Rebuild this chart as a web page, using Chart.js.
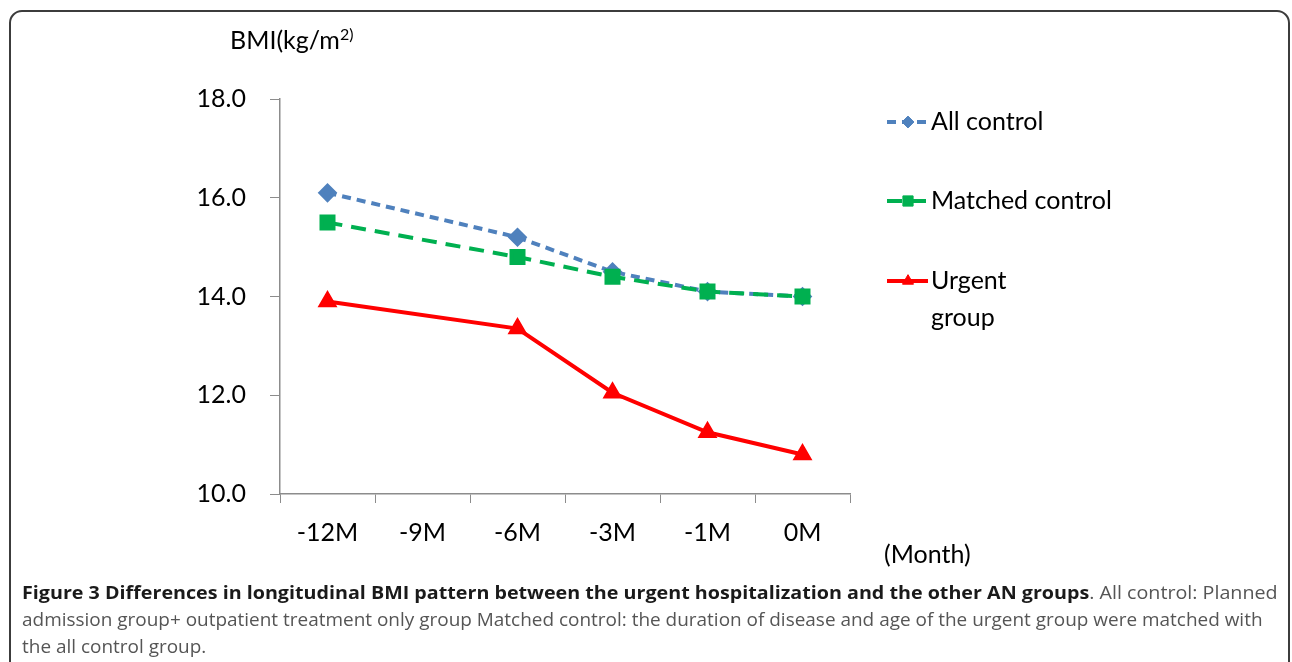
<!DOCTYPE html>
<html>
<head>
<meta charset="utf-8">
<script src="https://cdn.jsdelivr.net/npm/chart.js@4.4.1/dist/chart.umd.min.js"></script>
<style>
  html, body { margin:0; padding:0; background:#fff; width:1292px; height:662px; overflow:hidden; }
  #frame { position:absolute; left:9px; top:10px; width:1281px; height:720px; border:2px solid #3c3c3c; border-radius:13px; box-sizing:border-box; }
  #wrap { position:absolute; left:0; top:0; width:1292px; height:662px; }
  .ttl { position:absolute; font-family:'Lato', sans-serif; font-size:25px; color:#000; white-space:nowrap; line-height:1; }
  #ytitle { left:230px; top:27px; }
  #ytitle sup { font-size:16px; vertical-align:0; position:relative; top:-9px; }
  #xtitle { left:884px; top:541px; }
  .cap { position:absolute; left:22px; font-family:'Open Sans', sans-serif; font-size:17.5px; color:#555; white-space:nowrap; transform-origin:0 0; line-height:1; }
  .cap b { color:#1a1a1a; font-weight:700; }
</style>
</head>
<body>
<div id="frame"></div>
<div id="wrap"><canvas id="c" width="1292" height="662"></canvas></div>
<div class="ttl" id="ytitle">BMI(kg/m<sup>2)</sup></div>
<div class="ttl" id="xtitle">(Month)</div>
<div class="cap" id="cap1" style="top:584px"><b>Figure 3 Differences in longitudinal BMI pattern between the urgent hospitalization and the other AN groups</b>. All control: Planned</div>
<div class="cap" id="cap2" style="top:611px">admission group+ outpatient treatment only group Matched control: the duration of disease and age of the urgent group were matched with</div>
<div class="cap" id="cap3" style="top:638px">the all control group.</div>
<script>
// ---- data ----
const categories = ['-12M', '-9M', '-6M', '-3M', '-1M', '0M'];
const allControl = [16.1, null, 15.2, 14.5, 14.1, 14.0];
const matchedControl = [15.5, null, 14.8, 14.4, 14.1, 14.0];
const urgentGroup = [13.9, null, 13.35, 12.05, 11.25, 10.8];
const yMin = 10, yMax = 18, yStep = 2;
const legendLabels = [['All control'], ['Matched control'], ['Urgent', 'group']];

// fit caption lines to the reference widths once fonts are ready
function fitCaption() {
  const c1 = document.getElementById('cap1'), c2 = document.getElementById('cap2'), c3 = document.getElementById('cap3');
  [c1, c2, c3].forEach(el => el.style.transform = 'none');
  const k1 = 1256 / c1.scrollWidth, k2 = 1240 / c2.scrollWidth;
  c1.style.transform = 'scaleX(' + k1 + ')';
  c2.style.transform = 'scaleX(' + k2 + ')';
  c3.style.transform = 'scaleX(' + k2 + ')';
}
fitCaption();
if (document.fonts && document.fonts.ready) document.fonts.ready.then(fitCaption);

const FONT = 'Lato';

const legendPlugin = {
  id: 'sideLegend',
  afterDraw(chart) {
    const ctx = chart.ctx;
    const ys = [122, 201, 281];
    const x0 = 887, x1 = 928, xm = 908, tx = 931;
    chart.data.datasets.forEach((ds, i) => {
      const y = ys[i];
      ctx.save();
      ctx.strokeStyle = ds.borderColor;
      ctx.lineWidth = ds.borderWidth;
      ctx.setLineDash(ds.borderDash || []);
      ctx.beginPath();
      ctx.moveTo(x0, y);
      ctx.lineTo(x1, y);
      ctx.stroke();
      ctx.restore();
      ctx.save();
      ctx.fillStyle = ds.pointBackgroundColor;
      ctx.strokeStyle = ds.pointBackgroundColor;
      ctx.lineWidth = 1;
      Chart.helpers.drawPoint(ctx, { pointStyle: ds.pointStyle, rotation: 0, radius: ds.pointRadius * 0.85, borderWidth: 1 }, xm, y);
      ctx.restore();
      ctx.save();
      ctx.fillStyle = '#000';
      ctx.font = '25px ' + FONT;
      ctx.textBaseline = 'middle';
      ctx.textAlign = 'left';
      legendLabels[i].forEach((ln, k) => ctx.fillText(ln, tx, y + k * 37));
      ctx.restore();
    });
  }
};

new Chart(document.getElementById('c'), {
  type: 'line',
  data: {
    labels: categories,
    datasets: [
      { label: 'All control', data: allControl, borderColor: '#4F81BD', backgroundColor: '#4F81BD',
        pointBackgroundColor: '#4F81BD', pointBorderColor: '#4F81BD', borderWidth: 4, borderDash: [9, 6],
        pointStyle: 'rectRot', pointRadius: 7, pointHoverRadius: 7, spanGaps: true, tension: 0, order: 3 },
      { label: 'Matched control', data: matchedControl, borderColor: '#00B050', backgroundColor: '#00B050',
        pointBackgroundColor: '#00B050', pointBorderColor: '#00B050', borderWidth: 4, borderDash: [15, 9],
        pointStyle: 'rect', pointRadius: 8.5, pointHoverRadius: 8.5, spanGaps: true, tension: 0, order: 2 },
      { label: 'Urgent group', data: urgentGroup, borderColor: '#FF0000', backgroundColor: '#FF0000',
        pointBackgroundColor: '#FF0000', pointBorderColor: '#FF0000', borderWidth: 4,
        pointStyle: 'triangle', pointRadius: 7.5, pointHoverRadius: 7.5, spanGaps: true, tension: 0, order: 1 }
    ]
  },
  options: {
    responsive: false,
    animation: false,
    events: [],
    layout: { padding: { left: 0, right: 442, top: 99, bottom: 0 } },
    plugins: { legend: { display: false }, tooltip: { enabled: false } },
    scales: {
      x: {
        offset: true,
        grid: { offset: true, drawOnChartArea: false, drawTicks: true, tickLength: 9, color: '#8c8c8c', lineWidth: 1 },
        border: { color: '#8c8c8c', width: 1.5 },
        ticks: { font: { family: FONT, size: 25 }, color: '#000', padding: 15, maxRotation: 0, autoSkip: false },
        afterFit: s => { s.height = 168; }
      },
      y: {
        min: yMin, max: yMax,
        grid: { drawOnChartArea: false, drawTicks: true, tickLength: 10, color: '#8c8c8c', lineWidth: 1 },
        border: { color: '#8c8c8c', width: 1.5 },
        ticks: { stepSize: yStep, font: { family: FONT, size: 25 }, color: '#000', padding: 24,
                 callback: v => Number(v).toFixed(1) },
        afterFit: s => { s.width = 280; }
      }
    }
  },
  plugins: [legendPlugin]
});
</script>
</body>
</html>
